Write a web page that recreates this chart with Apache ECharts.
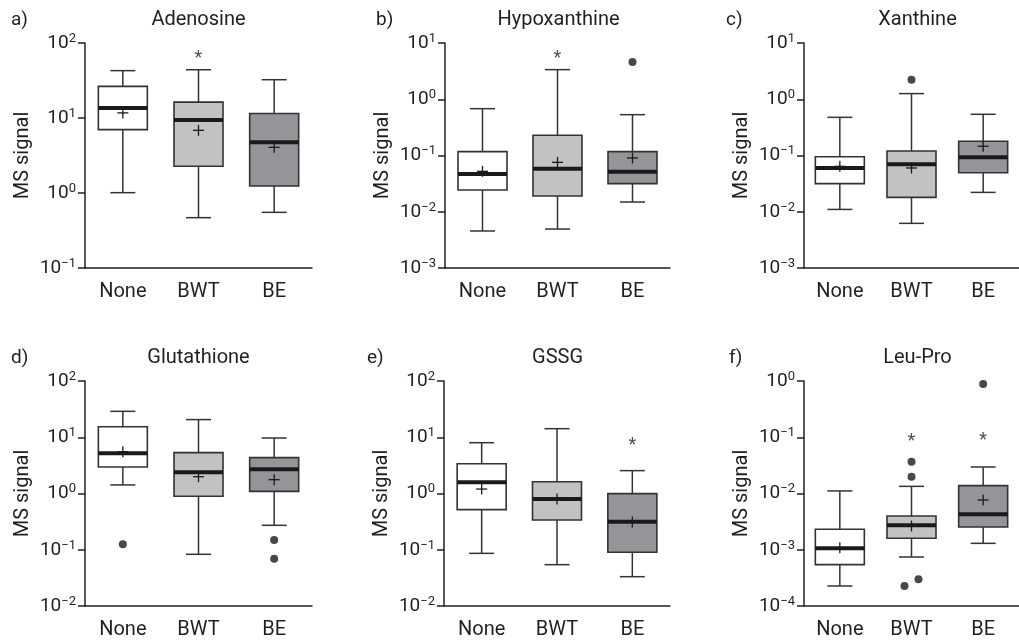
<!DOCTYPE html>
<html>
<head>
<meta charset="utf-8">
<script src="https://cdn.jsdelivr.net/npm/echarts@6/dist/echarts.min.js"></script>
<style>
  html, body { margin: 0; padding: 0; background: #fff; }
  #chart { width: 1019px; height: 643px; }
</style>
</head>
<body>
<div id="chart"></div>
<script>
const categories = ["None", "BWT", "BE"];
const panelLetters = ["a)", "b)", "c)", "d)", "e)", "f)"];
const panelTitles = ["Adenosine", "Hypoxanthine", "Xanthine", "Glutathione", "GSSG", "Leu-Pro"];
// decade range of each y axis (exponents)
const yMinExp = [-1, -3, -3, -2, -2, -4];
const yMaxExp = [2, 1, 1, 2, 2, 0];

// [min, Q1, median, Q3, max] per group
const adenosineBox = [[1.01, 7.0, 13.6, 26.4, 42.8], [0.469, 2.27, 9.4, 16.3, 44], [0.552, 1.24, 4.74, 11.5, 32.4]];
const hypoxanthineBox = [[0.00455, 0.0244, 0.0469, 0.117, 0.68], [0.00493, 0.019, 0.0583, 0.229, 3.36], [0.0149, 0.0316, 0.0516, 0.117, 0.532]];
const xanthineBox = [[0.011, 0.0316, 0.06, 0.0953, 0.477], [0.00622, 0.018, 0.0697, 0.12, 1.26], [0.0221, 0.0495, 0.0927, 0.179, 0.54]];
const glutathioneBox = [[1.42, 2.96, 5.18, 15.4, 28.9], [0.083, 0.891, 2.38, 5.32, 20.6], [0.272, 1.09, 2.69, 4.34, 9.7]];
const gssgBox = [[0.0863, 0.516, 1.58, 3.39, 8.0], [0.0543, 0.338, 0.798, 1.62, 14.2], [0.0332, 0.09, 0.316, 0.993, 2.55]];
const leuProBox = [[0.000227, 0.000543, 0.00106, 0.00231, 0.0111], [0.000743, 0.0016, 0.00272, 0.00398, 0.0134], [0.0013, 0.00254, 0.00427, 0.0138, 0.0296]];

// group means
const adenosineMean = [11.7, 6.85, 4.06];
const hypoxanthineMean = [0.0523, 0.0756, 0.0904];
const xanthineMean = [0.0642, 0.06, 0.146];
const glutathioneMean = [5.54, 1.99, 1.76];
const gssgMean = [1.2, 0.8, 0.31];
const leuProMean = [0.00109, 0.00264, 0.00766];

// outliers [group, value]
const adenosineOut = [];
const hypoxanthineOut = [[2, 4.6]];
const xanthineOut = [[1, 2.23]];
const glutathioneOut = [[0, 0.125], [2, 0.149], [2, 0.0694]];
const gssgOut = [];
const leuProOut = [[1, 0.0368], [1, 0.0199], [1, 0.000227], [1, 0.000298], [2, 0.885]];

// significance marks [group, value]
const adenosineStar = [[1, 70]];
const hypoxanthineStar = [[1, 6.2]];
const xanthineStar = [];
const glutathioneStar = [];
const gssgStar = [[2, 8.3]];
const leuProStar = [[1, 0.098], [2, 0.102]];

const boxes = [adenosineBox, hypoxanthineBox, xanthineBox, glutathioneBox, gssgBox, leuProBox];
const means = [adenosineMean, hypoxanthineMean, xanthineMean, glutathioneMean, gssgMean, leuProMean];
const outliers = [adenosineOut, hypoxanthineOut, xanthineOut, glutathioneOut, gssgOut, leuProOut];
const stars = [adenosineStar, hypoxanthineStar, xanthineStar, glutathioneStar, gssgStar, leuProStar];

const ink = "#231f20";
const boxFill = ["#ffffff", "#c1c2c4", "#939598"];
const fontFamily = "Roboto, 'Noto Sans', sans-serif";

// panel layout (px)
const grids = [
  { left: 85, top: 43, width: 227, height: 225 },
  { left: 445, top: 43, width: 225, height: 225 },
  { left: 804, top: 43, width: 227, height: 225 },
  { left: 85, top: 381, width: 227, height: 225 },
  { left: 444, top: 381, width: 226, height: 225 },
  { left: 804, top: 381, width: 227, height: 225 },
];
const letterX = [11, 376, 726, 11, 367, 729];

const myChart = echarts.init(document.getElementById("chart"));

function expLabel(v) {
  const e = Math.round(Math.log10(v));
  return "{b|10}{s|" + (e < 0 ? "\u2212" : "") + Math.abs(e) + "}";
}

function renderBox(params, api) {
  const cat = api.value(0);
  const x = api.coord([cat, api.value(3)])[0];
  const y = (i) => api.coord([cat, api.value(i)])[1];
  const yMin = y(1), yQ1 = y(2), yMed = y(3), yQ3 = y(4), yMax = y(5), yMean = y(6);
  const hw = 24.5, cap = 12.5, m = 5.5;
  const line = { stroke: "#333333", lineWidth: 1.5 };
  return {
    type: "group",
    children: [
      { type: "line", shape: { x1: x, y1: yQ3, x2: x, y2: yMax }, style: line },
      { type: "line", shape: { x1: x, y1: yQ1, x2: x, y2: yMin }, style: line },
      { type: "line", shape: { x1: x - cap, y1: yMax, x2: x + cap, y2: yMax }, style: line },
      { type: "line", shape: { x1: x - cap, y1: yMin, x2: x + cap, y2: yMin }, style: line },
      {
        type: "rect",
        shape: { x: x - hw, y: yQ3, width: hw * 2, height: yQ1 - yQ3 },
        style: { fill: boxFill[cat], stroke: "#333333", lineWidth: 1.6 },
      },
      { type: "line", shape: { x1: x - hw, y1: yMed, x2: x + hw, y2: yMed }, style: { stroke: "#1a1a1a", lineWidth: 4 } },
      { type: "line", shape: { x1: x - m, y1: yMean, x2: x + m, y2: yMean }, style: { stroke: "#1a1a1a", lineWidth: 1.3 } },
      { type: "line", shape: { x1: x, y1: yMean - m, x2: x, y2: yMean + m }, style: { stroke: "#1a1a1a", lineWidth: 1.3 } },
    ],
  };
}

const option = {
  animation: false,
  backgroundColor: "#fff",
  textStyle: { fontFamily: fontFamily, color: ink },
  grid: grids,
  xAxis: grids.map((g, i) => ({
    type: "category",
    gridIndex: i,
    data: categories,
    axisLine: { lineStyle: { color: ink, width: 1.5 } },
    axisTick: { alignWithLabel: true, length: 7, lineStyle: { color: ink, width: 1.5 } },
    axisLabel: { color: ink, fontSize: 20, margin: 14, fontFamily: fontFamily },
    splitLine: { show: false },
  })),
  yAxis: grids.map((g, i) => ({
    type: "log",
    gridIndex: i,
    logBase: 10,
    min: Math.pow(10, yMinExp[i]),
    max: Math.pow(10, yMaxExp[i]),
    interval: 1,
    name: "MS signal",
    nameLocation: "middle",
    nameGap: 52,
    nameTextStyle: { fontSize: 20, color: ink, fontFamily: fontFamily },
    axisLine: { show: true, lineStyle: { color: ink, width: 1.5 } },
    axisTick: { show: true, length: 7, lineStyle: { color: ink, width: 1.5 } },
    axisLabel: {
      color: ink,
      margin: 9,
      formatter: expLabel,
      rich: {
        b: { fontSize: 19, lineHeight: 22, color: ink, fontFamily: fontFamily },
        s: { fontSize: 13, lineHeight: 13, verticalAlign: "top", color: ink, fontFamily: fontFamily },
      },
    },
    splitLine: { show: false },
    minorTick: { show: false },
  })),
  graphic: [],
  series: [],
};

grids.forEach((g, i) => {
  option.graphic.push({
    type: "text",
    x: letterX[i],
    y: g.top - 23,
    style: { text: panelLetters[i], fontSize: 19, fontFamily: fontFamily, fill: ink, verticalAlign: "middle" },
  });
  option.graphic.push({
    type: "text",
    x: g.left + 113.5,
    y: g.top - 23,
    style: { text: panelTitles[i], fontSize: 20, fontFamily: fontFamily, fill: ink, align: "center", verticalAlign: "middle" },
  });

  option.series.push({
    type: "custom",
    xAxisIndex: i,
    yAxisIndex: i,
    renderItem: renderBox,
    encode: { x: 0, y: [1, 2, 3, 4, 5, 6] },
    data: boxes[i].map((b, j) => [j].concat(b, [means[i][j]])),
    z: 2,
  });

  // dodge outliers of the same group that sit very close
  const outData = outliers[i].map((o, k) => {
    const near = outliers[i].filter((p, l) => l !== k && p[0] === o[0] &&
      Math.abs(Math.log10(p[1]) - Math.log10(o[1])) < 0.2);
    let shift = 0;
    if (near.length) shift = o[1] < near[0][1] ? -7 : 7;
    return { value: o, symbolOffset: [shift, 0] };
  });
  option.series.push({
    type: "scatter",
    xAxisIndex: i,
    yAxisIndex: i,
    symbol: "circle",
    symbolSize: 8,
    itemStyle: { color: "#1a1a1a" },
    data: outData,
    z: 3,
  });

  option.series.push({
    type: "scatter",
    xAxisIndex: i,
    yAxisIndex: i,
    symbolSize: 0,
    label: {
      show: true,
      position: "inside",
      formatter: "*",
      fontSize: 18,
      color: ink,
      fontFamily: fontFamily,
      offset: [0, 4],
    },
    data: stars[i],
    z: 3,
  });
});

myChart.setOption(option);
</script>
</body>
</html>
